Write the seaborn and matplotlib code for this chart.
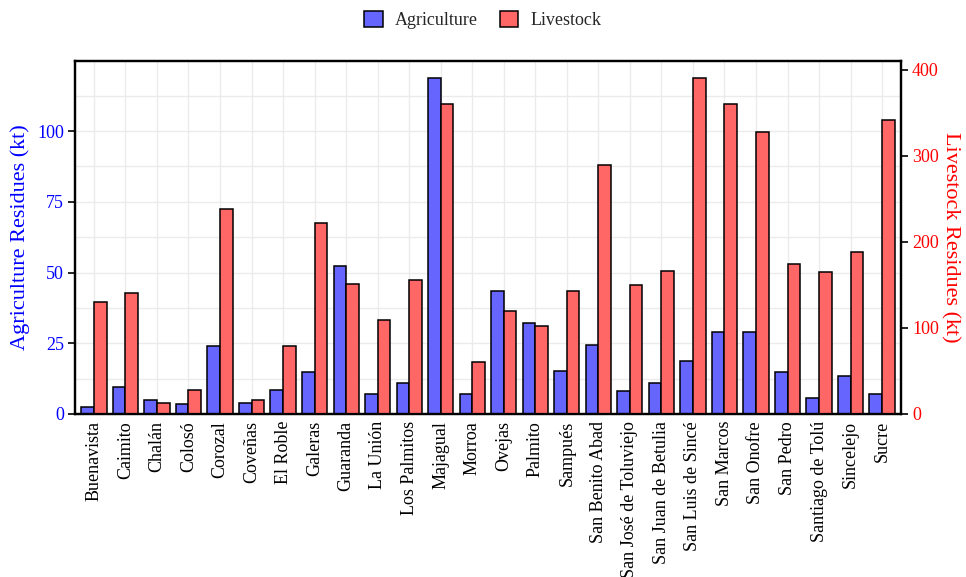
import matplotlib
matplotlib.use("Agg")
import matplotlib.pyplot as plt
from matplotlib.patches import Patch
from matplotlib.ticker import MultipleLocator, FixedLocator
import seaborn as sns
import pandas as pd

municipalities = ["Buenavista", "Caimito", "Chalán", "Colosó", "Corozal", "Coveñas",
                  "El Roble", "Galeras", "Guaranda", "La Unión", "Los Palmitos", "Majagual",
                  "Morroa", "Ovejas", "Palmito", "Sampués", "San Benito Abad",
                  "San José de Toluviejo", "San Juan de Betulia", "San Luis de Sincé",
                  "San Marcos", "San Onofre", "San Pedro", "Santiago de Tolú", "Sincelejo", "Sucre"]
agriculture = [2.4, 9.4, 4.9, 3.5, 24.2, 3.8, 8.6, 14.9, 52.2, 7.1, 11.1, 118.8, 7.1,
               43.4, 32.1, 15.2, 24.5, 8.0, 11.1, 18.8, 28.8, 28.8, 14.9, 5.6, 13.5, 6.9]
livestock = [129.6, 140.8, 13.1, 28.2, 238.4, 16.2, 78.7, 222.2, 150.8, 109.2, 155.9, 360.3, 60.6,
             119.2, 102.2, 142.4, 289.7, 149.7, 165.9, 390.4, 360.3, 327.5, 174.4, 164.7, 188.7, 341.8]
series = ["Agriculture", "Livestock"]
colors = {"Agriculture": "#6666FF", "Livestock": "#FF6666"}

df = pd.DataFrame({
    "Municipality": municipalities * 2,
    "Type": ["Agriculture"] * len(municipalities) + ["Livestock"] * len(municipalities),
    "Value": agriculture + livestock,
})

sns.set_theme(style="white")
plt.rcParams["font.family"] = ["Liberation Serif", "DejaVu Serif"]

fig = plt.figure(figsize=(9.66, 5.77), dpi=100)
ax1 = fig.add_axes([75 / 966, 1 - 414 / 577, (901 - 75) / 966, (414 - 61) / 577])
ax2 = ax1.twinx()

common = dict(x="Municipality", y="Value", hue="Type", hue_order=series, palette=colors,
              order=municipalities, dodge=True, width=0.8, edgecolor="black",
              linewidth=1.1, errorbar=None, legend=False, saturation=1)
sns.barplot(data=df[df.Type == "Agriculture"], ax=ax1, **common)
sns.barplot(data=df[df.Type == "Livestock"], ax=ax2, **common)

ax1.set_xlim(-0.6, len(municipalities) - 0.4)
ax1.set_ylim(0, max(agriculture) * 1.05)
ax2.set_ylim(0, max(livestock) * 1.05)

ax1.yaxis.set_major_locator(FixedLocator([0, 25, 50, 75, 100]))
ax1.yaxis.set_minor_locator(MultipleLocator(12.5))
ax2.yaxis.set_major_locator(FixedLocator([0, 100, 200, 300, 400]))

ax1.set_axisbelow(True)
ax1.grid(True, which="both", axis="y", color="#ebebeb", linewidth=1.0)
ax1.grid(True, which="major", axis="x", color="#ebebeb", linewidth=1.0)
ax2.grid(False)

ax1.set_xlabel("")
ax2.set_xlabel("")
ax1.set_ylabel("Agriculture Residues (kt)", color="blue", fontsize=16, labelpad=5)
ax2.set_ylabel("Livestock Residues (kt)", color="red", fontsize=16, rotation=270, labelpad=15)

ax1.tick_params(axis="y", which="major", colors="black", labelcolor="blue", labelsize=13,
                length=5, width=1.2, direction="out", left=True, pad=3)
ax1.tick_params(axis="y", which="minor", length=0)
ax2.tick_params(axis="y", colors="black", labelcolor="red", labelsize=13,
                length=5, width=1.2, direction="out", right=True, pad=3)
ax1.tick_params(axis="x", length=0, labelsize=13, labelcolor="black", pad=5)
for lbl in ax1.get_xticklabels():
    lbl.set_rotation(90)

for ax in (ax1, ax2):
    for s in ax.spines.values():
        s.set_color("black")
        s.set_linewidth(1.6)
        s.set_visible(True)

handles = [Patch(facecolor=colors[s], edgecolor="black", linewidth=1.1, label=s) for s in series]
fig.legend(handles=handles, loc="center", bbox_to_anchor=(0.5, 1 - 20 / 577), ncol=2,
           frameon=False, fontsize=13, handlelength=1.0, handleheight=1.0,
           columnspacing=1.2, handletextpad=0.7)

fig.savefig("out.png", dpi=100)
